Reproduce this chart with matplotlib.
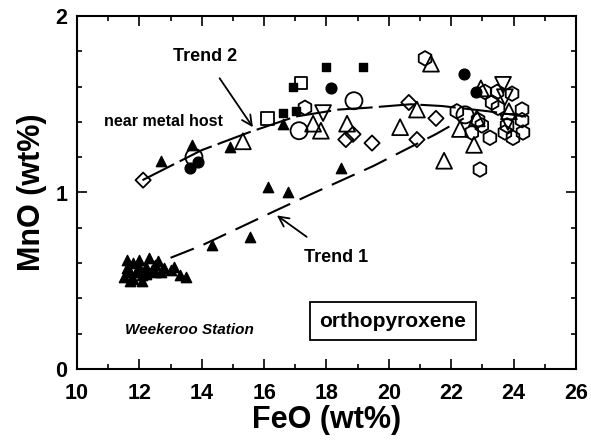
import matplotlib
matplotlib.use("Agg")
import matplotlib.pyplot as plt
from matplotlib.ticker import MultipleLocator

plt.rcParams['font.family'] = ['Liberation Sans', 'DejaVu Sans']
plt.rcParams['font.weight'] = 'bold'

# ---- data (FeO wt%, MnO wt%) ----
tri_fill_x = [11.5, 11.6, 11.7, 11.8, 11.9, 12.0, 12.1, 12.2, 12.3, 12.4, 12.5, 12.6,
              12.8, 13.0, 13.1, 13.3, 13.5, 11.6, 11.8, 12.0, 12.2, 12.5, 11.7, 12.1, 12.7,
              14.33, 15.55, 16.12, 16.76, 18.46, 12.69, 13.69, 14.90, 16.60]
tri_fill_y = [0.52, 0.62, 0.50, 0.60, 0.55, 0.62, 0.53, 0.58, 0.63, 0.56, 0.55, 0.61,
              0.57, 0.56, 0.58, 0.53, 0.52, 0.57, 0.51, 0.58, 0.54, 0.59, 0.55, 0.50, 0.55,
              0.70, 0.75, 1.03, 1.00, 1.14, 1.18, 1.27, 1.26, 1.39]

tri_open_x = [15.32, 17.57, 17.82, 18.66, 20.36, 20.90, 21.35, 21.77, 22.28, 22.73, 22.95, 23.85, 22.82]
tri_open_y = [1.29, 1.39, 1.35, 1.39, 1.37, 1.47, 1.73, 1.18, 1.36, 1.27, 1.59, 1.46, 1.42]

tri_down_x = [17.89, 23.66, 23.72, 23.82]
tri_down_y = [1.45, 1.61, 1.54, 1.40]

sq_fill_x = [17.98, 19.17, 16.93, 16.60, 17.02]
sq_fill_y = [1.71, 1.71, 1.60, 1.45, 1.46]

sq_open_x = [17.18, 16.12]
sq_open_y = [1.62, 1.42]

circ_fill_x = [18.14, 13.62, 13.88, 22.41, 22.79]
circ_fill_y = [1.59, 1.14, 1.17, 1.67, 1.57]

circ_open_x = [13.75, 17.12, 18.88, 22.44]
circ_open_y = [1.20, 1.35, 1.52, 1.44]

dia_open_x = [12.12, 18.62, 18.85, 19.46, 20.64, 21.51, 20.90]
dia_open_y = [1.07, 1.30, 1.33, 1.28, 1.51, 1.42, 1.30]

hex_open_x = [17.31, 21.16, 23.08, 23.47, 23.95, 23.31, 23.50, 22.18, 22.86, 22.66,
              22.98, 23.24, 24.27, 24.27, 23.79, 24.30, 23.72, 23.98, 22.92]
hex_open_y = [1.48, 1.76, 1.57, 1.57, 1.56, 1.51, 1.48, 1.46, 1.41, 1.34,
              1.38, 1.31, 1.47, 1.41, 1.38, 1.34, 1.34, 1.31, 1.13]

# trend lines (hand drawn in the original)
trend1_x = [13.0, 14.0, 15.2, 16.4, 17.5, 18.5, 19.5, 20.5, 21.5, 22.4]
trend1_y = [0.63, 0.70, 0.80, 0.90, 0.99, 1.07, 1.15, 1.24, 1.33, 1.42]
trend2_x = [12.1, 14.0, 15.5, 16.0, 17.0, 18.4, 19.3, 20.7, 21.7, 23.2, 24.4]
trend2_y = [1.07, 1.24, 1.34, 1.37, 1.43, 1.47, 1.48, 1.50, 1.49, 1.46, 1.43]

fig = plt.figure(figsize=(5.91, 4.40), dpi=100)
ax = fig.add_axes([0.1303, 0.1614, 0.8443, 0.8022])

# trend lines
l2, = ax.plot(trend2_x, trend2_y, color='black', lw=1.5)
l2.set_dashes((17, 3))
l1, = ax.plot(trend1_x, trend1_y, color='black', lw=1.5)
l1.set_dashes((12, 5))

ew = 1.3
ax.scatter(tri_fill_x, tri_fill_y, marker='^', s=55, c='black', zorder=3)
ax.scatter(sq_fill_x, sq_fill_y, marker='s', s=30, c='black', zorder=3)
ax.scatter(circ_fill_x, circ_fill_y, marker='o', s=60, c='black', zorder=3)
ax.scatter(tri_open_x, tri_open_y, marker='^', s=130, facecolors='none', edgecolors='black', linewidths=ew, zorder=3)
ax.scatter(tri_down_x, tri_down_y, marker='v', s=130, facecolors='none', edgecolors='black', linewidths=ew, zorder=3)
ax.scatter(sq_open_x, sq_open_y, marker='s', s=85, facecolors='none', edgecolors='black', linewidths=ew, zorder=3)
ax.scatter(circ_open_x, circ_open_y, marker='o', s=150, facecolors='none', edgecolors='black', linewidths=ew, zorder=3)
ax.scatter(dia_open_x, dia_open_y, marker='D', s=60, facecolors='none', edgecolors='black', linewidths=ew, zorder=3)
ax.scatter(hex_open_x, hex_open_y, marker='h', s=110, facecolors='none', edgecolors='black', linewidths=ew, zorder=3)

# labels and arrows
ax.annotate('Trend 2', xy=(15.64, 1.37), xytext=(14.1, 1.77), fontsize=13,
            fontweight='bold', ha='center', va='center',
            arrowprops=dict(arrowstyle='->', color='black', lw=1.3, shrinkA=9, shrinkB=0,
                            mutation_scale=18))
ax.annotate('Trend 1', xy=(16.41, 0.87), xytext=(18.3, 0.63), fontsize=13,
            fontweight='bold', ha='center', va='center',
            arrowprops=dict(arrowstyle='->', color='black', lw=1.3, shrinkA=12, shrinkB=0,
                            mutation_scale=18))
ax.text(12.76, 1.40, 'near metal host', fontsize=11.5, fontweight='bold', ha='center', va='center')
ax.text(13.62, 0.22, 'Weekeroo Station', fontsize=11, fontweight='bold', style='italic',
        ha='center', va='center')
ax.text(20.13, 0.27, 'orthopyroxene', fontsize=15, fontweight='bold', ha='center', va='center',
        bbox=dict(boxstyle='square,pad=0.45', facecolor='white', edgecolor='black', lw=1.3))

ax.set_xlim(10, 26)
ax.set_ylim(0, 2)
ax.xaxis.set_major_locator(MultipleLocator(2))
ax.xaxis.set_minor_locator(MultipleLocator(1))
ax.yaxis.set_major_locator(MultipleLocator(1))
ax.yaxis.set_minor_locator(MultipleLocator(0.2))
ax.tick_params(which='both', direction='in', top=True, right=True, width=1.2)
ax.tick_params(which='major', length=7, labelsize=15.5)
ax.tick_params(axis='x', which='major', pad=10)
ax.tick_params(axis='y', which='major', pad=7)
ax.tick_params(which='minor', length=3.5)
for lab in ax.get_xticklabels() + ax.get_yticklabels():
    lab.set_fontweight('bold')
for sp in ax.spines.values():
    sp.set_linewidth(1.5)

ax.set_xlabel('FeO (wt%)', fontsize=22, fontweight='bold', labelpad=1)
ax.set_ylabel('MnO (wt%)', fontsize=22, fontweight='bold', labelpad=6)

fig.savefig('out.png', dpi=100)
